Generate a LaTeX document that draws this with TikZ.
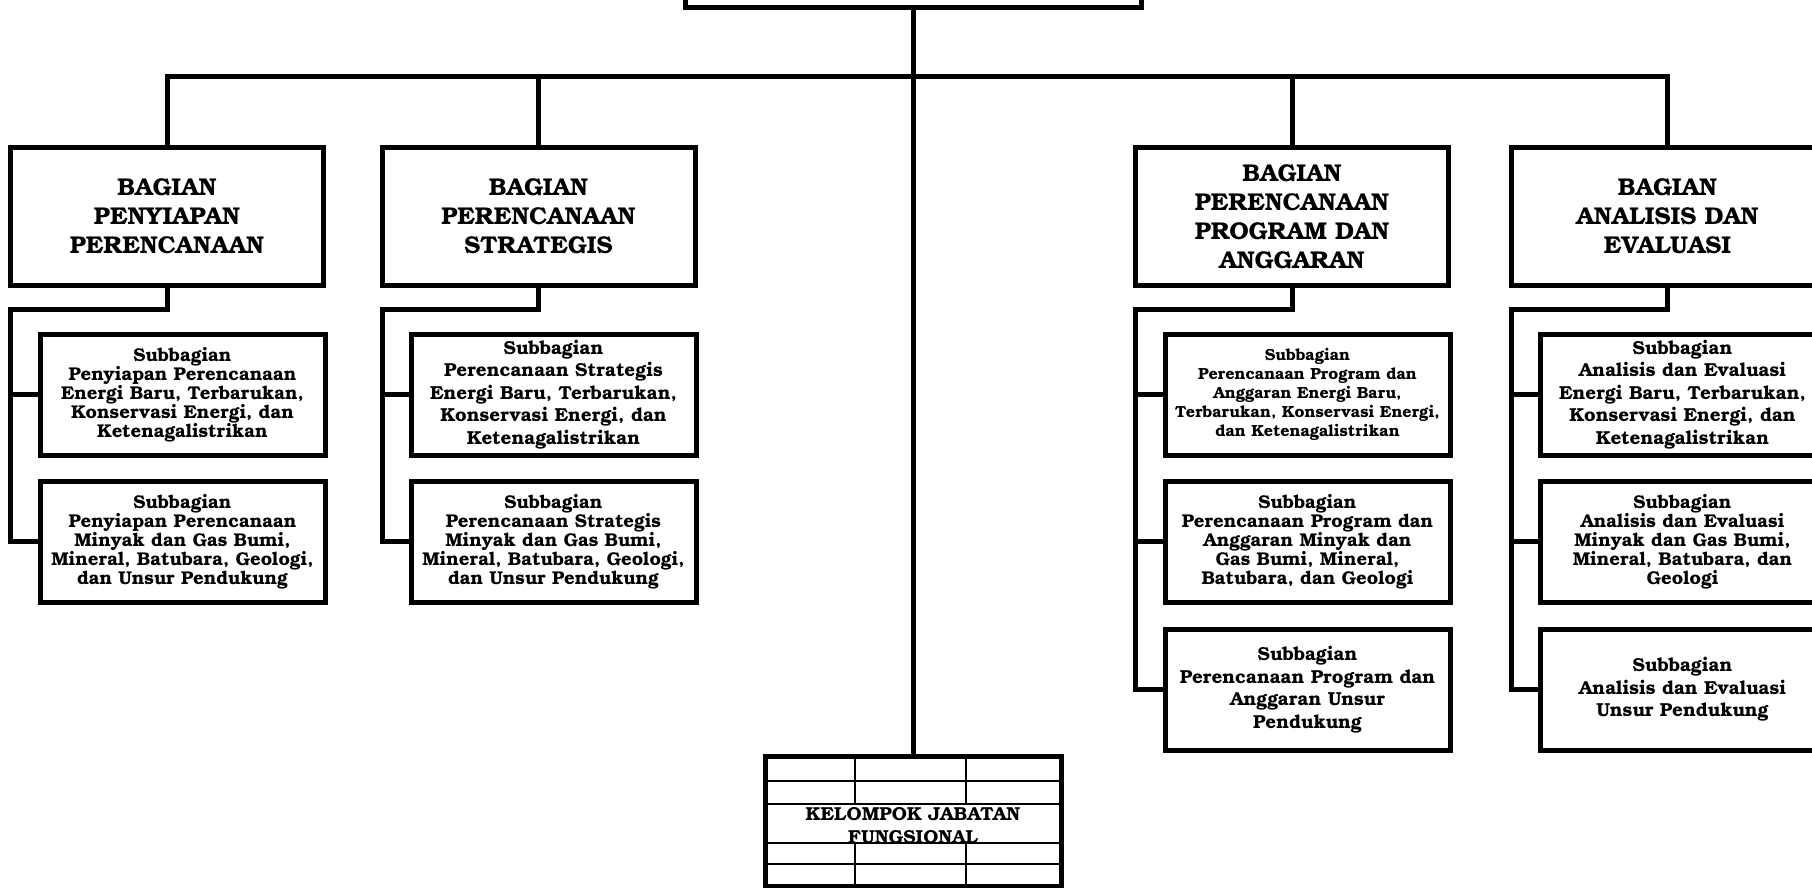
\documentclass[tikz,border=0pt]{standalone}
\usepackage{fontspec}
\setmainfont{TeX Gyre Bonum}
\begin{document}
\begin{tikzpicture}[x=1pt,y=-1pt,
    link/.style={line width=5pt,line join=miter},
    bagian/.style={draw,line width=5pt,outer sep=0pt,inner sep=1pt,align=center,
      minimum width=313pt,minimum height=137pt,font=\bfseries\fontsize{24.3}{29}\selectfont},
    subbag/.style={draw,line width=5pt,outer sep=0pt,inner sep=1pt,align=center,
      minimum width=285pt,minimum height=121pt,font=\bfseries\fontsize{18.5}{19}\selectfont},
    wide/.style={font=\bfseries\fontsize{18.8}{22.5}\selectfont},
    small/.style={font=\bfseries\fontsize{16.1}{19}\selectfont}]
  \useasboundingbox[fill=white] (0,0) rectangle (1812,888);

  % top box, cut by the page edge
  \node[draw,line width=5pt,outer sep=0pt,minimum width=456pt,minimum height=56pt] (kepala) at (913,-20) {};

  % bagian
  \node[bagian] (b1) at (167,216.5) {BAGIAN\\PENYIAPAN\\PERENCANAAN};
  \node[bagian] (b2) at (538.5,216.5) {BAGIAN\\PERENCANAAN\\STRATEGIS};
  \node[bagian] (b3) at (1292,216.5) {BAGIAN\\PERENCANAAN\\PROGRAM DAN\\ANGGARAN};
  \node[bagian] (b4) at (1667.5,216.5) {BAGIAN\\ANALISIS DAN\\EVALUASI};

  % subbagian
  \node[subbag] (s11) at (182.5,394.5) {Subbagian\\Penyiapan Perencanaan\\Energi Baru, Terbarukan,\\Konservasi Energi, dan\\Ketenagalistrikan};
  \node[subbag] (s12) at (182.5,541.5) {Subbagian\\Penyiapan Perencanaan\\Minyak dan Gas Bumi,\\Mineral, Batubara, Geologi,\\dan Unsur Pendukung};
  \node[subbag,wide] (s21) at (553.5,394.5) {Subbagian\\Perencanaan Strategis\\Energi Baru, Terbarukan,\\Konservasi Energi, dan\\Ketenagalistrikan};
  \node[subbag] (s22) at (553.5,541.5) {Subbagian\\Perencanaan Strategis\\Minyak dan Gas Bumi,\\Mineral, Batubara, Geologi,\\dan Unsur Pendukung};
  \node[subbag,small] (s31) at (1307.5,394.5) {Subbagian\\Perencanaan Program dan\\Anggaran Energi Baru,\\Terbarukan, Konservasi Energi,\\dan Ketenagalistrikan};
  \node[subbag] (s32) at (1307.5,541.5) {Subbagian\\Perencanaan Program dan\\Anggaran Minyak dan\\Gas Bumi, Mineral,\\Batubara, dan Geologi};
  \node[subbag,wide] (s33) at (1307.5,689.5) {Subbagian\\Perencanaan Program dan\\Anggaran Unsur\\Pendukung};
  \node[subbag,wide] (s41) at (1682.5,394.5) {Subbagian\\Analisis dan Evaluasi\\Energi Baru, Terbarukan,\\Konservasi Energi, dan\\Ketenagalistrikan};
  \node[subbag] (s42) at (1682.5,541.5) {Subbagian\\Analisis dan Evaluasi\\Minyak dan Gas Bumi,\\Mineral, Batubara, dan\\Geologi};
  \node[subbag,wide] (s43) at (1682.5,689.5) {Subbagian\\Analisis dan Evaluasi\\Unsur Pendukung};

  % kelompok jabatan fungsional
  \node[draw,line width=5pt,outer sep=0pt,minimum width=296pt,minimum height=130pt] (kjf) at (913,821) {};
  \node[font=\bfseries\fontsize{18.8}{23}\selectfont,align=center] (kjftext) at (913,826) {KELOMPOK JABATAN\\FUNGSIONAL};
  \draw[line width=2pt] (767,781) -- (1059,781);
  \draw[line width=2pt] (767,804) -- (1059,804);
  \draw[line width=2pt] (767,843) -- (1059,843);
  \draw[line width=2pt] (767,864) -- (1059,864);
  \draw[line width=2pt] (855,758) -- (855,804) (966,758) -- (966,804);
  \draw[line width=2pt] (855,843) -- (855,884) (966,843) -- (966,884);

  % connectors
  \coordinate (bus) at (913,77);
  \draw[link] (kepala.south) -- (kjf.north);
  \draw[link] (b1.north) |- (bus) -| (b4.north);
  \draw[link] (bus) -| (b2.north);
  \draw[link] (bus) -| (b3.north);

  \draw[link] (b1.south) -- ++(0,24) -| (s12.west -| b1.west) -- (s12.west);
  \draw[link] (s11.west -| b1.west) -- (s11.west);
  \draw[link] (b2.south) -- ++(0,24) -| (s22.west -| b2.west) -- (s22.west);
  \draw[link] (s21.west -| b2.west) -- (s21.west);
  \draw[link] (b3.south) -- ++(0,24) -| (s33.west -| b3.west) -- (s33.west);
  \draw[link] (s31.west -| b3.west) -- (s31.west);
  \draw[link] (s32.west -| b3.west) -- (s32.west);
  \draw[link] (b4.south) -- ++(0,24) -| (s43.west -| b4.west) -- (s43.west);
  \draw[link] (s41.west -| b4.west) -- (s41.west);
  \draw[link] (s42.west -| b4.west) -- (s42.west);
\end{tikzpicture}
\end{document}
